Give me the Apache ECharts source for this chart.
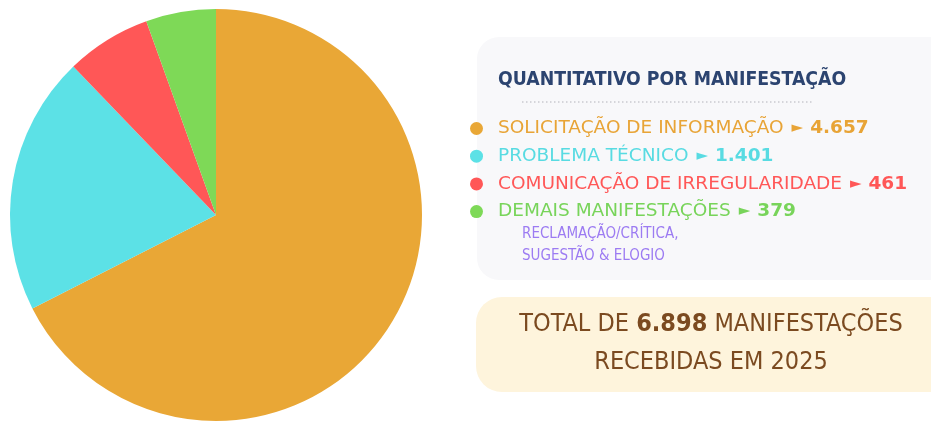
<!DOCTYPE html>
<html>
<head>
<meta charset="utf-8">
<script src="https://cdn.jsdelivr.net/npm/echarts@6/dist/echarts.min.js"></script>
<style>
  html, body { margin: 0; padding: 0; background: #fff; }
  #chart { width: 931px; height: 422px; }
</style>
</head>
<body>
<div id="chart"></div>
<script>
(function () {
    'use strict';
    // dados do gráfico
    var categories = ['SOLICITAÇÃO DE INFORMAÇÃO', 'PROBLEMA TÉCNICO', 'COMUNICAÇÃO DE IRREGULARIDADE', 'DEMAIS MANIFESTAÇÕES'];
    var values = [4657, 1401, 461, 379];
    var sliceColors = ['#e9a736', '#5ce1e6', '#ff5757', '#7ed957'];
    var textColors = ['#e8a436', '#58dbe2', '#ff5757', '#78d45a'];
    var subNote = ['RECLAMAÇÃO/CRÍTICA,', 'SUGESTÃO & ELOGIO'];
    var totalYear = 2025;

    var FONT = "'DejaVu Sans Condensed', 'DejaVu Sans', sans-serif";
    var WIDE = "'DejaVu Sans', sans-serif";

    function fmt(n) {
        return String(n).replace(/\B(?=(\d{3})+(?!\d))/g, '.');
    }

    var total = values.reduce(function (a, b) { return a + b; }, 0);

    var rich = {};
    categories.forEach(function (c, i) {
        rich['n' + i] = { color: textColors[i], fontSize: 18.5, fontFamily: WIDE, lineHeight: 20 };
        rich['a' + i] = { color: textColors[i], fontSize: 15, fontFamily: WIDE, lineHeight: 20, padding: [0, 7, 0, 8] };
        rich['v' + i] = { color: textColors[i], fontSize: 18.5, fontWeight: 'bold', fontFamily: WIDE, lineHeight: 20 };
    });

    var chart = echarts.init(document.getElementById('chart'), null, { renderer: 'canvas' });
    var option = {
        animation: false,
        backgroundColor: '#ffffff',
        title: {
            text: 'QUANTITATIVO POR MANIFESTAÇÃO',
            left: 493,
            top: 65,
            textStyle: { color: '#2c4470', fontSize: 19.3, fontWeight: 'bold', fontFamily: FONT }
        },
        legend: {
            orient: 'vertical',
            left: 465,
            top: 114,
            icon: 'circle',
            itemWidth: 13,
            itemHeight: 13,
            itemGap: 8.7,
            padding: 5,
            selectedMode: false,
            data: categories,
            formatter: function (name) {
                var i = categories.indexOf(name);
                return '{n' + i + '|' + name + '}{a' + i + '|►}{v' + i + '|' + fmt(values[i]) + '}';
            },
            textStyle: { rich: rich, padding: [0, 0, 0, 10] }
        },
        graphic: [
            {
                type: 'rect', z: -10,
                shape: { x: 477, y: 37, width: 480, height: 243, r: 22 },
                style: { fill: '#f8f8fa' }
            },
            {
                type: 'line', z: -5,
                shape: { x1: 522, y1: 102, x2: 812, y2: 102 },
                style: { stroke: '#c9c9cf', lineWidth: 1.5, lineDash: [1.5, 2.5] }
            },
            {
                type: 'text',
                left: 522, top: 223,
                style: {
                    text: subNote.join('\n'),
                    fill: '#9c7bf2', fontSize: 15, lineHeight: 22, fontFamily: FONT
                }
            },
            {
                type: 'rect', z: -10,
                shape: { x: 476, y: 297, width: 480, height: 95, r: 26 },
                style: { fill: '#fef4dc' }
            },
            {
                type: 'text',
                x: 711, y: 343,
                style: {
                    text: '{t|TOTAL DE }{b|' + fmt(total) + '}{t| MANIFESTAÇÕES}\n{t|RECEBIDAS EM ' + totalYear + '}',
                    align: 'center', verticalAlign: 'middle',
                    rich: {
                        t: { fill: '#7b4a20', fontSize: 25, lineHeight: 38, fontFamily: FONT },
                        b: { fill: '#7b4a20', fontSize: 25, lineHeight: 38, fontWeight: 'bold', fontFamily: FONT }
                    }
                }
            }
        ],
        series: [{
            type: 'pie',
            center: [216, 215],
            radius: 206,
            startAngle: 90,
            clockwise: true,
            label: { show: false },
            labelLine: { show: false },
            emphasis: { disabled: true },
            data: categories.map(function (c, i) {
                return { name: c, value: values[i], itemStyle: { color: sliceColors[i] } };
            })
        }]
    };
    chart.setOption(option);

    window.onresize = function () {
        chart && chart.resize();
    };
})();
</script>
</body>
</html>
